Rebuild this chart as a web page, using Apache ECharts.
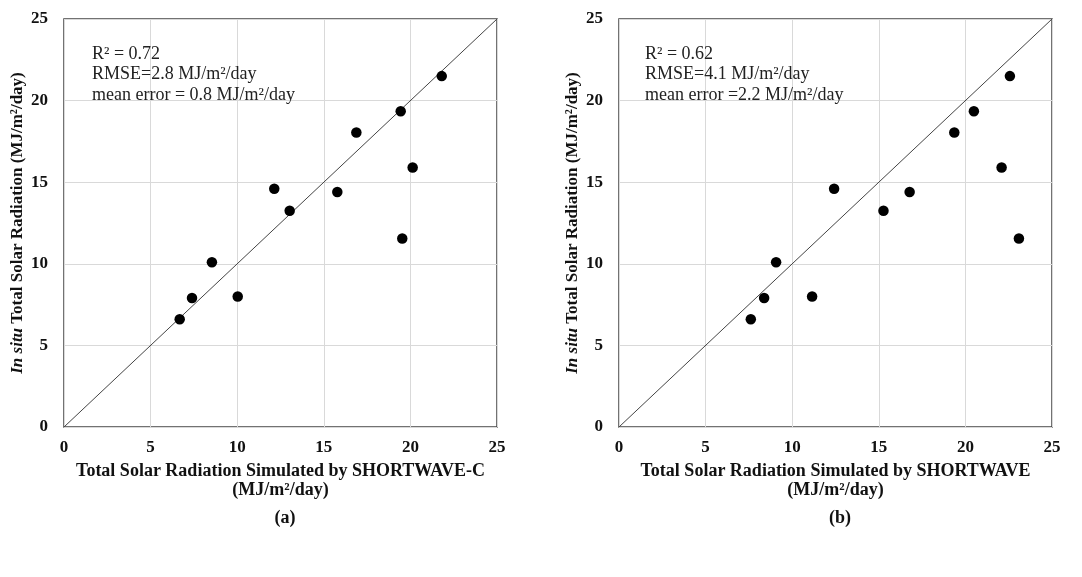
<!DOCTYPE html>
<html>
<head>
<meta charset="utf-8">
<script src="https://cdn.jsdelivr.net/npm/echarts@6/dist/echarts.min.js"></script>
<style>html,body{margin:0;padding:0;background:#fff;}#c{width:1082px;height:577px;}</style>
</head>
<body>
<div id="c"></div>
<script>
// In situ observed values (shared by both panels)
const observed = [6.6, 7.9, 10.1, 8.0, 14.6, 13.25, 14.4, 18.05, 19.35, 11.55, 15.9, 21.5];
// Simulated by SHORTWAVE-C (panel a)
const simulatedC = [6.68, 7.39, 8.54, 10.03, 12.14, 13.03, 15.78, 16.88, 19.44, 19.53, 20.13, 21.81];
// Simulated by SHORTWAVE (panel b)
const simulated = [7.61, 8.38, 9.07, 11.15, 12.42, 15.27, 16.78, 19.36, 20.49, 23.09, 22.09, 22.57];
const oneToOne = [[0, 0], [25, 25]];
const axisMin = 0, axisMax = 25, axisStep = 5;
const statsA = ['R² = 0.72', 'RMSE=2.8 MJ/m²/day', 'mean error = 0.8 MJ/m²/day'];
const statsB = ['R² = 0.62', 'RMSE=4.1 MJ/m²/day', 'mean error =2.2 MJ/m²/day'];
const xNameA = 'Total Solar Radiation Simulated by SHORTWAVE-C\n(MJ/m²/day)';
const xNameB = 'Total Solar Radiation Simulated by SHORTWAVE\n(MJ/m²/day)';
const yName = '{i|In situ} Total Solar Radiation (MJ/m²/day)';

const serif = '"Liberation Serif", "Times New Roman", serif';
const pairs = (xs, ys) => xs.map((x, i) => [x, ys[i]]);

function xAxis(gi, name) {
  return {
    type: 'value', gridIndex: gi, min: axisMin, max: axisMax, interval: axisStep,
    name: name, nameLocation: 'middle', nameGap: 35,
    nameTextStyle: {fontFamily: serif, fontWeight: 'bold', fontSize: 18, color: '#111', lineHeight: 19},
    axisLine: {show: false}, axisTick: {show: false},
    axisLabel: {fontFamily: serif, fontWeight: 'bold', fontSize: 17, color: '#111', margin: 12},
    splitLine: {show: true, lineStyle: {color: '#d9d9d9', width: 1}}
  };
}
function yAxis(gi) {
  return {
    type: 'value', gridIndex: gi, min: axisMin, max: axisMax, interval: axisStep,
    name: yName, nameLocation: 'middle', nameGap: 38, nameRotate: 90,
    nameTextStyle: {fontFamily: serif, fontWeight: 'bold', fontSize: 17, color: '#111',
      rich: {i: {fontFamily: serif, fontWeight: 'bold', fontStyle: 'italic', fontSize: 17, color: '#111'}}},
    axisLine: {show: false}, axisTick: {show: false},
    axisLabel: {fontFamily: serif, fontWeight: 'bold', fontSize: 17, color: '#111', margin: 16},
    splitLine: {show: true, lineStyle: {color: '#d9d9d9', width: 1}}
  };
}
function statsText(left, lines) {
  return {type: 'text', left: left, top: 44, z: 10,
    style: {text: lines.join('\n'), font: '18px ' + serif, fill: '#222', lineHeight: 20.5}};
}

const chart = echarts.init(document.getElementById('c'), null, {renderer: 'canvas'});
chart.setOption({
  backgroundColor: '#fff',
  animation: false,
  title: [
    {text: '(a)', left: 280, top: 504, textAlign: 'center',
      textStyle: {fontFamily: serif, fontWeight: 'bold', fontSize: 18, color: '#111'}},
    {text: '(b)', left: 835, top: 504, textAlign: 'center',
      textStyle: {fontFamily: serif, fontWeight: 'bold', fontSize: 18, color: '#111'}}
  ],
  grid: [
    {left: 64, top: 19, width: 433, height: 408, show: true, borderColor: '#444', borderWidth: 1.5, backgroundColor: 'transparent'},
    {left: 619, top: 19, width: 433, height: 408, show: true, borderColor: '#444', borderWidth: 1.5, backgroundColor: 'transparent'}
  ],
  xAxis: [xAxis(0, xNameA), xAxis(1, xNameB)],
  yAxis: [yAxis(0), yAxis(1)],
  series: [
    {type: 'line', xAxisIndex: 0, yAxisIndex: 0, data: oneToOne, showSymbol: false, symbol: 'none',
      lineStyle: {color: '#444', width: 1}, z: 2},
    {type: 'line', xAxisIndex: 1, yAxisIndex: 1, data: oneToOne, showSymbol: false, symbol: 'none',
      lineStyle: {color: '#444', width: 1}, z: 2},
    {type: 'scatter', xAxisIndex: 0, yAxisIndex: 0, data: pairs(simulatedC, observed),
      symbol: 'circle', symbolSize: 10.5, itemStyle: {color: '#000', opacity: 1}, z: 3},
    {type: 'scatter', xAxisIndex: 1, yAxisIndex: 1, data: pairs(simulated, observed),
      symbol: 'circle', symbolSize: 10.5, itemStyle: {color: '#000', opacity: 1}, z: 3}
  ],
  graphic: [statsText(92, statsA), statsText(645, statsB)]
});
</script>
</body>
</html>
